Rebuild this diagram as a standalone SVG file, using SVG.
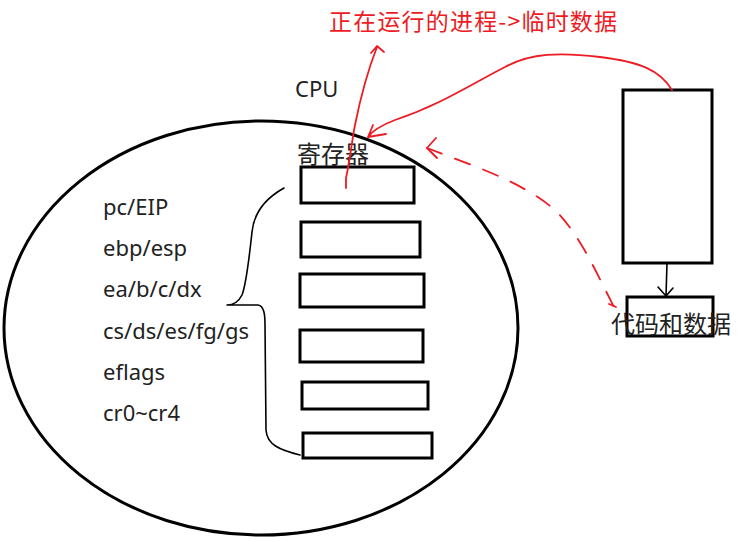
<svg xmlns="http://www.w3.org/2000/svg" width="746" height="540" viewBox="0 0 746 540">
<style>
.box{fill:none;stroke:#000;stroke-width:3}
.lbl{font-family:"Noto Sans","Noto Sans CJK SC",sans-serif;font-size:22px;fill:#222}
.cjk{font-family:"Noto Sans CJK SC","Noto Sans",sans-serif;font-size:24px;fill:#222}
.red{fill:none;stroke:#ed1c24;stroke-width:1.8;stroke-linecap:round;stroke-linejoin:round}
.blk{fill:none;stroke:#000;stroke-width:1.6;stroke-linecap:round;stroke-linejoin:round}
</style>
<rect width="746" height="540" fill="#fff"/>
<g id="title"><text x="329" y="30" font-family="'Noto Sans CJK SC',sans-serif" font-size="23" fill="#ed1c24" textLength="288">正在运行的进程-&gt;临时数据</text></g>
<g id="cpu">
<ellipse cx="261" cy="328" rx="257" ry="207" fill="none" stroke="#000" stroke-width="3"/>
<text class="lbl" x="295" y="97">CPU</text>
<text class="cjk" x="297" y="163">寄存器</text>
</g>
<g id="labels">
<text class="lbl" x="103" y="215">pc/EIP</text>
<text class="lbl" x="103" y="256">ebp/esp</text>
<text class="lbl" x="103" y="297">ea/b/c/dx</text>
<text class="lbl" x="103" y="339">cs/ds/es/fg/gs</text>
<text class="lbl" x="103" y="380">eflags</text>
<text class="lbl" x="103" y="421">cr0~cr4</text>
</g>
<g id="registers">
<rect class="box" x="301" y="167" width="113" height="36"/>
<rect class="box" x="301" y="222" width="119" height="35"/>
<rect class="box" x="300" y="274" width="124" height="33"/>
<rect class="box" x="300" y="330" width="123" height="32"/>
<rect class="box" x="302" y="382" width="126" height="27"/>
<rect class="box" x="303" y="433" width="129" height="25"/>
</g>
<g id="memory">
<rect class="box" x="623" y="90" width="89" height="173"/>
<rect class="box" x="627" y="297" width="86" height="39"/>
<text class="cjk" x="611" y="333">代码和数据</text>
</g>
<g id="connectors">
<path class="blk" d="M284,188 C266,198 254,212 252,232 C249,260 246,285 242,295 C238,303 232,305 227,305 L258,305 C264,306 265,314 265,325 L266,430 C267,445 280,450 300,455"/>
<path class="blk" d="M667,263 L666,296 M658,287 L666,296 L673,288"/>
<path class="red" d="M346,188 L346,178 C350,160 352,140 355,125 C360,100 368,70 377,47 M371,53 L377,46 L384,52"/>
<path class="red" d="M672,90 C660,70 640,62 600,57 C560,52 530,53 505,67 C470,85 440,105 395,120 C382,125 373,130 368,137 M373,125 L368,137 L386,134"/>
<path class="red" stroke-dasharray="16,14" d="M427,148 C470,165 520,180 555,210 C580,235 595,270 614,307"/>
<path class="red" d="M436,138 L427,148 L437,158 M609,304 L616,307"/>
</g>
</svg>
